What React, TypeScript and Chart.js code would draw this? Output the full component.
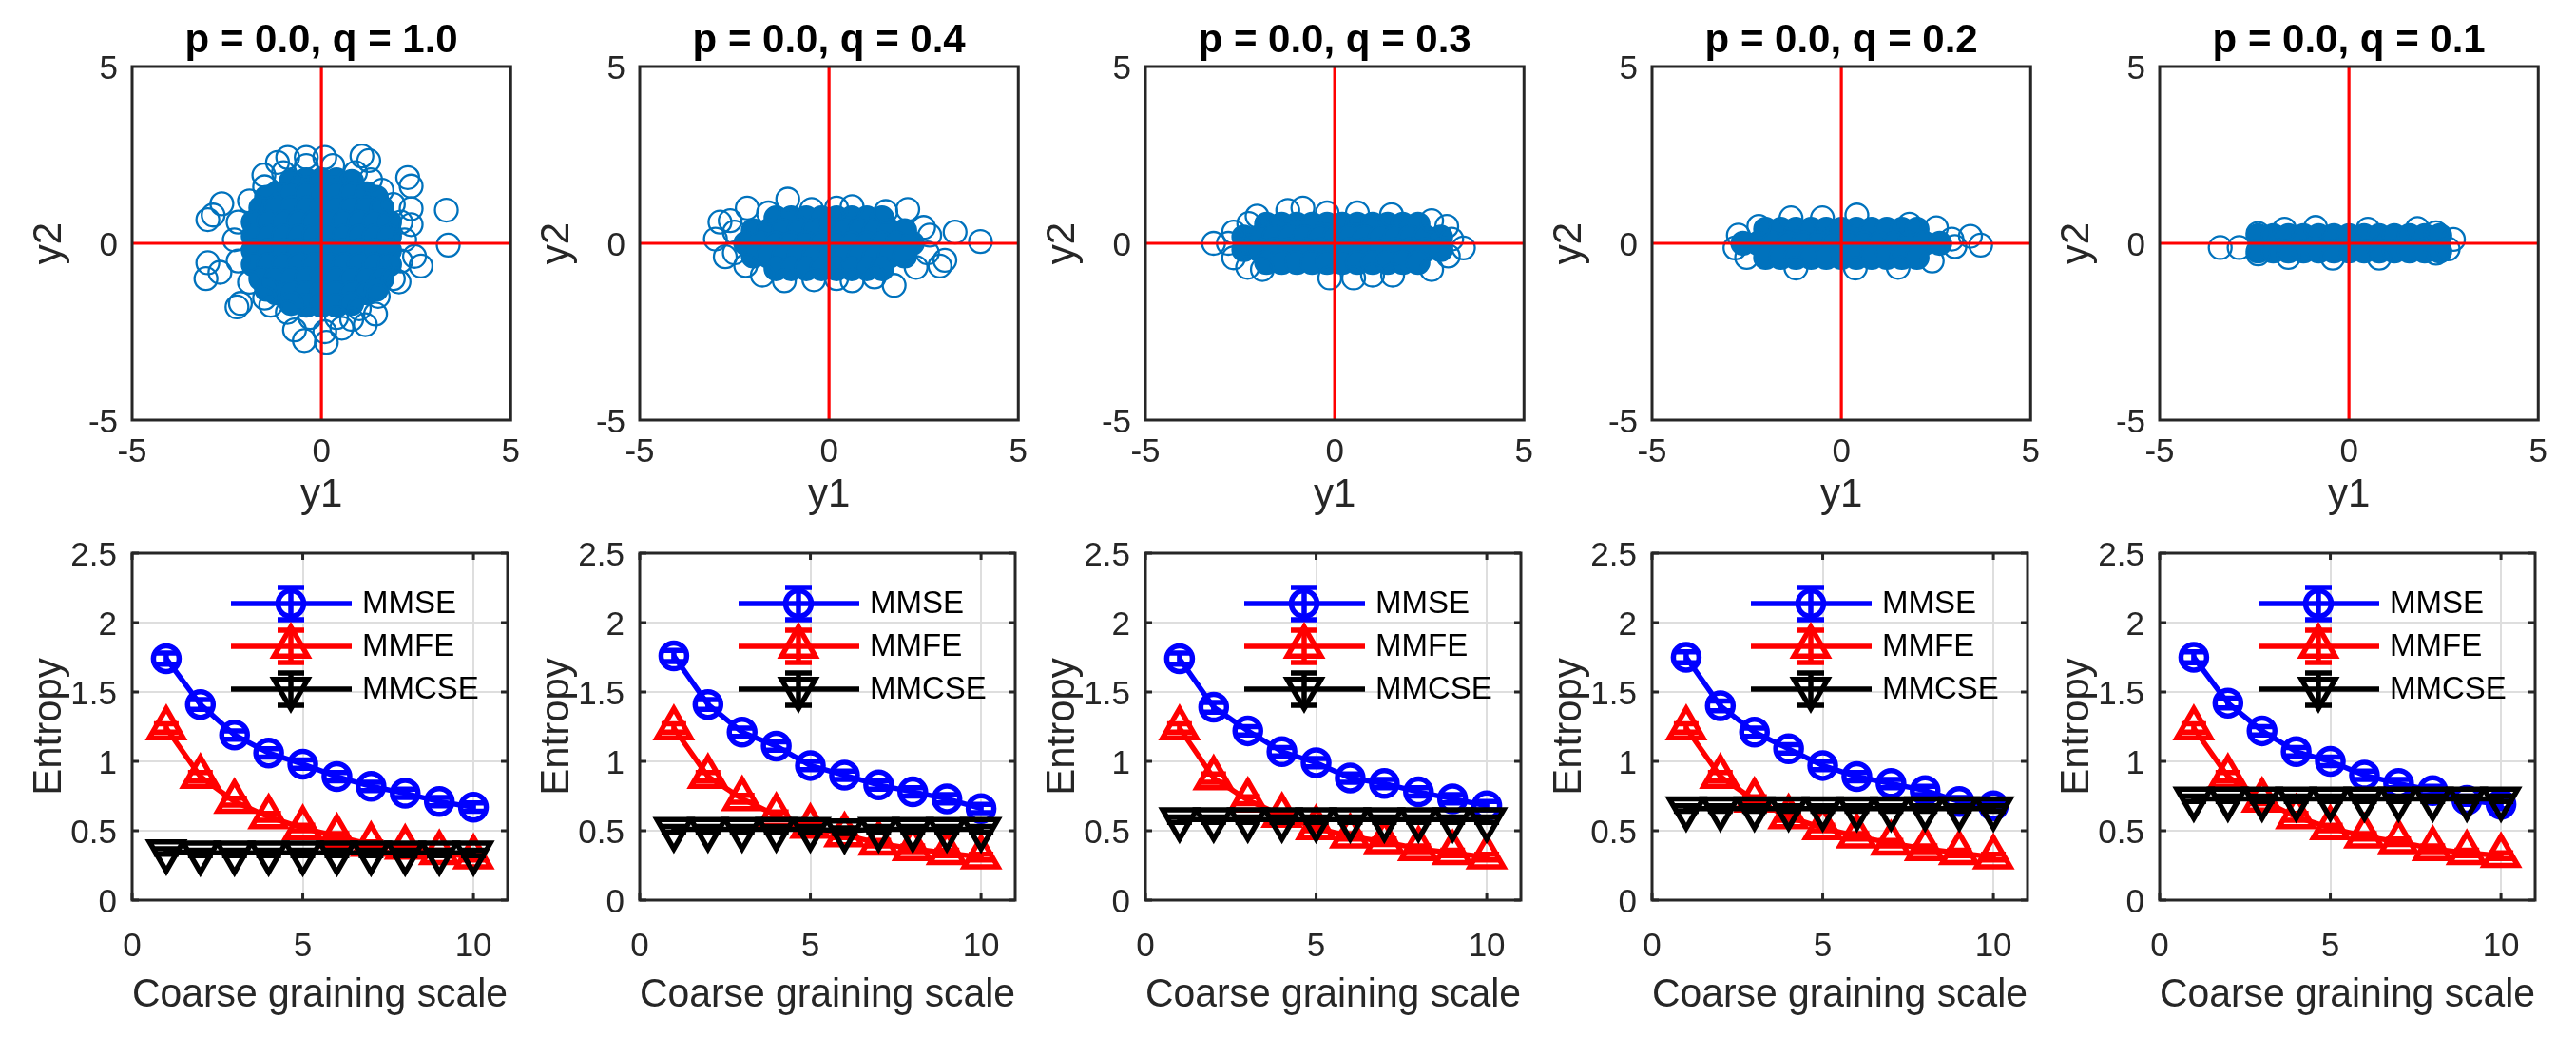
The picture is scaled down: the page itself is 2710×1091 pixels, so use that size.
import React, { useEffect, useRef } from "react";
import { Chart, registerables } from "chart.js";

Chart.register(...registerables);

const FONT = "'Liberation Sans', Arial, Helvetica, sans-serif";
const INK = "#262626";
const GRID = "#dedede";
const DOT = "#0072BD";
const BLUE = "#0000ff";
const RED = "#ff0000";
const BLACK = "#000000";

// panel parameters
const pLabels = ["0.0", "0.0", "0.0", "0.0", "0.0"];
const qLabels = ["1.0", "0.4", "0.3", "0.2", "0.1"];

// axis ticks
const scatterTicks = [-5, 0, 5];
const entropyTicks = [0, 0.5, 1, 1.5, 2, 2.5];
const grainTicks = [0, 5, 10];
const zeroSpan = [-5, 5];

// coarse graining scales
const grainScales = [1, 2, 3, 4, 5, 6, 7, 8, 9, 10];

// entropy curves per panel
const mmseQ10 = [1.74, 1.41, 1.19, 1.06, 0.98, 0.89, 0.82, 0.77, 0.71, 0.67];
const mmseQ04 = [1.76, 1.41, 1.21, 1.11, 0.97, 0.9, 0.83, 0.78, 0.73, 0.66];
const mmseQ03 = [1.74, 1.39, 1.22, 1.07, 0.99, 0.88, 0.84, 0.78, 0.73, 0.68];
const mmseQ02 = [1.75, 1.4, 1.21, 1.09, 0.97, 0.89, 0.84, 0.79, 0.71, 0.68];
const mmseQ01 = [1.75, 1.42, 1.22, 1.07, 1.0, 0.9, 0.84, 0.79, 0.72, 0.69];

const mmfeQ10 = [1.24, 0.89, 0.71, 0.6, 0.52, 0.46, 0.4, 0.38, 0.34, 0.31];
const mmfeQ04 = [1.24, 0.89, 0.73, 0.61, 0.53, 0.47, 0.41, 0.37, 0.34, 0.31];
const mmfeQ03 = [1.24, 0.88, 0.72, 0.61, 0.52, 0.46, 0.42, 0.37, 0.34, 0.31];
const mmfeQ02 = [1.24, 0.89, 0.72, 0.6, 0.52, 0.46, 0.41, 0.37, 0.34, 0.31];
const mmfeQ01 = [1.24, 0.89, 0.72, 0.6, 0.52, 0.46, 0.42, 0.37, 0.34, 0.32];

const mmcseQ10 = [0.35, 0.34, 0.34, 0.34, 0.34, 0.34, 0.34, 0.34, 0.34, 0.34];
const mmcseQ04 = [0.51, 0.51, 0.51, 0.51, 0.51, 0.5, 0.51, 0.51, 0.51, 0.51];
const mmcseQ03 = [0.58, 0.58, 0.58, 0.58, 0.58, 0.58, 0.58, 0.58, 0.58, 0.58];
const mmcseQ02 = [0.66, 0.66, 0.66, 0.66, 0.66, 0.66, 0.66, 0.66, 0.66, 0.66];
const mmcseQ01 = [0.73, 0.73, 0.73, 0.73, 0.73, 0.73, 0.73, 0.73, 0.73, 0.73];

// error bar half-lengths
const mmseErr = [0.04, 0.035, 0.03, 0.03, 0.03, 0.03, 0.03, 0.03, 0.03, 0.03];
const mmfeErr = [0.03, 0.03, 0.025, 0.025, 0.02, 0.02, 0.02, 0.02, 0.02, 0.02];
const mmcseErr = [0.02, 0.02, 0.02, 0.02, 0.02, 0.02, 0.02, 0.02, 0.02, 0.02];

// scatter clouds: dense core and the loose rim / outliers
const coreQ10 = [
  [-0.4, 1.8], [0, 1.8], [0.4, 1.8], [-0.8, 1.75], [0.8, 1.75],
  [-1.2, 1.4], [-0.8, 1.4], [-0.4, 1.4], [0, 1.4], [0.4, 1.4], [0.8, 1.4], [1.2, 1.4], [-1.45, 1.3], [1.45, 1.3],
  [-1.6, 1], [-1.2, 1], [-0.8, 1], [-0.4, 1], [0, 1], [0.4, 1], [0.8, 1], [1.2, 1], [1.6, 1],
  [-1.8, 0.6], [-1.4, 0.6], [-1, 0.6], [-0.6, 0.6], [-0.2, 0.6], [0.2, 0.6], [0.6, 0.6], [1, 0.6], [1.4, 0.6], [1.8, 0.6],
  [-1.8, 0.2], [-1.4, 0.2], [-1, 0.2], [-0.6, 0.2], [-0.2, 0.2], [0.2, 0.2], [0.6, 0.2], [1, 0.2], [1.4, 0.2], [1.8, 0.2],
  [-1.8, -0.2], [-1.4, -0.2], [-1, -0.2], [-0.6, -0.2], [-0.2, -0.2], [0.2, -0.2], [0.6, -0.2], [1, -0.2], [1.4, -0.2], [1.8, -0.2],
  [-1.8, -0.6], [-1.4, -0.6], [-1, -0.6], [-0.6, -0.6], [-0.2, -0.6], [0.2, -0.6], [0.6, -0.6], [1, -0.6], [1.4, -0.6], [1.8, -0.6],
  [-1.6, -1], [-1.2, -1], [-0.8, -1], [-0.4, -1], [0, -1], [0.4, -1], [0.8, -1], [1.2, -1], [1.6, -1],
  [-1.2, -1.4], [-0.8, -1.4], [-0.4, -1.4], [0, -1.4], [0.4, -1.4], [0.8, -1.4], [1.2, -1.4], [-1.45, -1.3], [1.45, -1.3],
  [-0.4, -1.75], [0, -1.75], [0.4, -1.75], [-0.8, -1.7], [0.8, -1.7],
];
const ringQ10 = [
  [3.3, 0.94], [3.35, -0.05], [2.28, 1.86], [2.37, 1.62], [1.07, 2.47], [1.25, 2.34], [0.09, 2.43], [-0.4, 2.43],
  [-0.89, 2.43], [-1.16, 2.29], [-1.52, 1.93], [-2.63, 1.12], [-3.0, 0.67], [-2.86, 0.8], [-3.0, -0.55], [-3.05, -1.0],
  [-2.68, -0.82], [-2.23, -1.8], [-2.14, -1.7], [-1.34, -1.75], [-0.71, -2.45], [-0.45, -2.75], [0.13, -2.8], [0.09, -2.5],
  [0.54, -2.4], [1.16, -2.3], [1.43, -2.0], [2.63, -0.64], [2.46, -0.37], [2.37, 0.53], [2.37, 0.98], [2.05, -1.09],
  [0.8, -2.15], [1.6, 1.5], [1.9, 1.1], [2.1, 0.6], [2.2, 0.1], [2.1, -0.5], [1.9, -1.0], [1.5, -1.5], [1.0, -1.85],
  [0.4, -2.1], [-0.3, -2.1], [-0.9, -1.95], [-1.5, -1.55], [-1.9, -1.1], [-2.2, -0.5], [-2.3, 0.1], [-2.2, 0.6],
  [-1.9, 1.2], [-1.5, 1.6], [-1.0, 2.0], [-0.4, 2.2], [0.3, 2.2], [0.9, 2.0], [1.3, 1.8],
];

const coreQ04 = [
  [-1.4, 0.72], [-1, 0.72], [-0.6, 0.72], [-0.2, 0.72], [0.2, 0.72], [0.6, 0.72], [1, 0.72], [1.4, 0.72],
  [-2, 0.36], [-1.6, 0.36], [-1.2, 0.36], [-0.8, 0.36], [-0.4, 0.36], [0, 0.36], [0.4, 0.36], [0.8, 0.36], [1.2, 0.36], [1.6, 0.36], [2, 0.36],
  [-2.2, 0], [-1.8, 0], [-1.4, 0], [-1, 0], [-0.6, 0], [-0.2, 0], [0.2, 0], [0.6, 0], [1, 0], [1.4, 0], [1.8, 0], [2.2, 0],
  [-2, -0.36], [-1.6, -0.36], [-1.2, -0.36], [-0.8, -0.36], [-0.4, -0.36], [0, -0.36], [0.4, -0.36], [0.8, -0.36], [1.2, -0.36], [1.6, -0.36], [2, -0.36],
  [-1.4, -0.72], [-1, -0.72], [-0.6, -0.72], [-0.2, -0.72], [0.2, -0.72], [0.6, -0.72], [1, -0.72], [1.4, -0.72],
];
const ringQ04 = [
  [3.33, 0.32], [4.0, 0.05], [2.93, -0.64], [3.06, -0.48], [1.72, -1.19], [-1.18, -1.06], [-1.09, 1.25], [-2.16, 1.0],
  [-2.88, 0.6], [-2.61, 0.64], [-3.0, 0.12], [-2.74, -0.38], [2.08, 0.96], [0.61, 1.04], [2.66, 0.23], [0.61, -1.06],
  [-1.76, -0.9], [-0.46, 0.96], [-2.5, 0.32], [-2.5, -0.27], [-2.2, -0.63], [-0.4, -1.03], [0.2, -1.0], [1.2, -0.95],
  [2.3, -0.68], [2.6, -0.27], [2.5, 0.45], [1.5, 0.9], [0.2, 1.0], [-1.6, 0.86],
];

const coreQ03 = [
  [-1.8, 0.54], [-1.4, 0.54], [-1, 0.54], [-0.6, 0.54], [-0.2, 0.54], [0.2, 0.54], [0.6, 0.54], [1, 0.54], [1.4, 0.54], [1.8, 0.54], [2.2, 0.54],
  [-2.4, 0.18], [-2, 0.18], [-1.6, 0.18], [-1.2, 0.18], [-0.8, 0.18], [-0.4, 0.18], [0, 0.18], [0.4, 0.18], [0.8, 0.18], [1.2, 0.18], [1.6, 0.18], [2, 0.18], [2.4, 0.18], [2.8, 0.18],
  [-2.4, -0.18], [-2, -0.18], [-1.6, -0.18], [-1.2, -0.18], [-0.8, -0.18], [-0.4, -0.18], [0, -0.18], [0.4, -0.18], [0.8, -0.18], [1.2, -0.18], [1.6, -0.18], [2, -0.18], [2.4, -0.18], [2.8, -0.18],
  [-1.8, -0.54], [-1.4, -0.54], [-1, -0.54], [-0.6, -0.54], [-0.2, -0.54], [0.2, -0.54], [0.6, -0.54], [1, -0.54], [1.4, -0.54], [1.8, -0.54], [2.2, -0.54],
];
const ringQ03 = [
  [-3.2, 0], [3.4, -0.13], [2.56, -0.74], [-0.13, -0.98], [0.5, -0.98], [-0.84, 1.0], [-1.24, 0.93], [-2.05, 0.77],
  [-2.27, 0.56], [-2.67, 0.32], [-2.81, 0], [-2.67, -0.41], [-1.91, -0.74], [2.56, 0.64], [2.96, 0.48], [3.09, 0.12],
  [1.53, -0.9], [-2.3, -0.68], [0.6, 0.86], [1.5, 0.81], [-0.2, 0.86], [1.0, -0.9], [3.0, -0.36],
];

const coreQ02 = [
  [-2, 0.4], [-1.6, 0.4], [-1.2, 0.4], [-0.8, 0.4], [-0.4, 0.4], [0, 0.4], [0.4, 0.4], [0.8, 0.4], [1.2, 0.4], [1.6, 0.4], [2, 0.4],
  [-2.6, 0], [-2.2, 0], [-1.8, 0], [-1.4, 0], [-1, 0], [-0.6, 0], [-0.2, 0], [0.2, 0], [0.6, 0], [1, 0], [1.4, 0], [1.8, 0], [2.2, 0], [2.6, 0],
  [-2, -0.4], [-1.6, -0.4], [-1.2, -0.4], [-0.8, -0.4], [-0.4, -0.4], [0, -0.4], [0.4, -0.4], [0.8, -0.4], [1.2, -0.4], [1.6, -0.4], [2, -0.4],
];
const ringQ02 = [
  [0.41, 0.8], [-1.33, 0.72], [2.51, 0.44], [2.92, 0.12], [3.41, 0.2], [3.68, -0.05], [3.0, -0.09], [-1.2, -0.7],
  [0.37, -0.7], [-2.81, -0.13], [-2.72, 0.23], [-2.18, 0.48], [-2.5, -0.4], [1.5, -0.68], [2.4, -0.5], [1.8, 0.54], [-0.5, 0.72],
];

const coreQ01 = [
  [-2.4, 0.22], [-2, 0.22], [-1.6, 0.22], [-1.2, 0.22], [-0.8, 0.22], [-0.4, 0.22], [0, 0.22], [0.4, 0.22], [0.8, 0.22], [1.2, 0.22], [1.6, 0.22], [2, 0.22], [2.4, 0.22],
  [-2.4, -0.22], [-2, -0.22], [-1.6, -0.22], [-1.2, -0.22], [-0.8, -0.22], [-0.4, -0.22], [0, -0.22], [0.4, -0.22], [0.8, -0.22], [1.2, -0.22], [1.6, -0.22], [2, -0.22], [2.4, -0.22],
];
const ringQ01 = [
  [-3.4, -0.12], [-2.9, -0.12], [2.76, 0.11], [2.62, -0.16], [1.81, 0.42], [-0.88, 0.45], [-0.43, -0.42], [2.3, 0.3],
  [2.3, -0.28], [-2.4, 0.28], [-2.4, -0.3], [0.5, 0.4], [0.8, -0.42], [-1.6, -0.4], [-1.7, 0.4],
];

const mmseSets = [mmseQ10, mmseQ04, mmseQ03, mmseQ02, mmseQ01];
const mmfeSets = [mmfeQ10, mmfeQ04, mmfeQ03, mmfeQ02, mmfeQ01];
const mmcseSets = [mmcseQ10, mmcseQ04, mmcseQ03, mmcseQ02, mmcseQ01];
const coreSets = [coreQ10, coreQ04, coreQ03, coreQ02, coreQ01];
const ringSets = [ringQ10, ringQ04, ringQ03, ringQ02, ringQ01];

// layout (pixels)
const PLOT_LEFT = [139, 673, 1205, 1738, 2272];
const AXIS_W = 139;
const CANVAS_W = 560;
const PLOT_W = 400;
const RIGHT_PAD = CANVAS_W - AXIS_W - PLOT_W;
const TOP_ROW = { top: 0, height: 570, areaTop: 70, areaBottom: 442 };
const BOTTOM_ROW = { top: 545, height: 546, areaTop: 30, areaBottom: 402 };

const tickFont = { size: 35, family: FONT };
const labelFont = { size: 42, family: FONT };

// inward tick marks, drawn underneath the data
const tickMarks = (xt: number[], yt: number[]) => ({
  id: "tickMarks",
  beforeDatasetsDraw(chart: any) {
    const { ctx, chartArea: a, scales } = chart;
    ctx.save();
    ctx.strokeStyle = INK;
    ctx.lineWidth = 3;
    ctx.beginPath();
    for (const v of xt) {
      const px = scales.x.getPixelForValue(v);
      ctx.moveTo(px, a.bottom);
      ctx.lineTo(px, a.bottom - 7);
      ctx.moveTo(px, a.top);
      ctx.lineTo(px, a.top + 7);
    }
    for (const v of yt) {
      const py = scales.y.getPixelForValue(v);
      ctx.moveTo(a.left, py);
      ctx.lineTo(a.left + 7, py);
      ctx.moveTo(a.right, py);
      ctx.lineTo(a.right - 7, py);
    }
    ctx.stroke();
    ctx.restore();
  },
});

// axes box around the plot area
const framePlugin = {
  id: "frame",
  afterDraw(chart: any) {
    const { ctx, chartArea: a } = chart;
    ctx.save();
    ctx.strokeStyle = INK;
    ctx.lineWidth = 3;
    ctx.strokeRect(a.left, a.top, a.right - a.left, a.bottom - a.top);
    ctx.restore();
  },
};

function markerPath(ctx: any, style: string, x: number, y: number, r: number, rotDeg: number) {
  ctx.beginPath();
  if (style === "circle") {
    ctx.arc(x, y, r, 0, Math.PI * 2);
  } else {
    let rad = (rotDeg * Math.PI) / 180;
    ctx.moveTo(x + Math.sin(rad) * r, y - Math.cos(rad) * r);
    rad += (2 * Math.PI) / 3;
    ctx.lineTo(x + Math.sin(rad) * r, y - Math.cos(rad) * r);
    rad += (2 * Math.PI) / 3;
    ctx.lineTo(x + Math.sin(rad) * r, y - Math.cos(rad) * r);
    ctx.closePath();
  }
  ctx.stroke();
}

const CAP_W = 26;
const SERIES_LW = 5.5;

function scatterConfig(i: number): any {
  const toPts = (arr: number[][]) => arr.map(([x, y]) => ({ x, y }));
  return {
    type: "scatter",
    data: {
      datasets: [
        {
          data: zeroSpan.map((v) => ({ x: v, y: 0 })),
          showLine: true,
          borderColor: RED,
          borderWidth: 3.2,
          pointRadius: 0,
          order: 0,
        },
        {
          data: zeroSpan.map((v) => ({ x: 0, y: v })),
          showLine: true,
          borderColor: RED,
          borderWidth: 3.2,
          pointRadius: 0,
          order: 0,
        },
        {
          data: toPts(ringSets[i]),
          pointRadius: 12,
          pointBorderWidth: 2.3,
          pointBorderColor: DOT,
          pointBackgroundColor: "rgba(0,0,0,0)",
          order: 1,
        },
        {
          data: toPts(coreSets[i]),
          pointRadius: 12,
          pointBorderWidth: 2.3,
          pointBorderColor: DOT,
          pointBackgroundColor: DOT,
          order: 2,
        },
      ],
    },
    options: {
      animation: false,
      responsive: false,
      devicePixelRatio: 1,
      events: [],
      layout: { padding: { left: 0, right: RIGHT_PAD, top: 0, bottom: 0 } },
      plugins: {
        legend: { display: false },
        tooltip: { enabled: false },
        title: {
          display: true,
          text: `p = ${pLabels[i]}, q = ${qLabels[i]}`,
          font: { size: 42, weight: "bold", family: FONT },
          color: "#000",
          padding: { top: 17.8, bottom: TOP_ROW.areaTop - 17.8 - 50.4 },
          fullSize: false,
        },
      },
      scales: {
        x: {
          type: "linear",
          min: -5,
          max: 5,
          afterBuildTicks: (s: any) => {
            s.ticks = scatterTicks.map((v) => ({ value: v }));
          },
          ticks: { font: tickFont, color: INK, padding: 13, maxRotation: 0, autoSkip: false, callback: (v: any) => String(v) },
          grid: { display: false, drawTicks: false },
          border: { display: false },
          title: { display: true, text: "y1", font: labelFont, color: INK, padding: { top: 0, bottom: 23.8 } },
          afterFit: (s: any) => {
            s.height = TOP_ROW.height - TOP_ROW.areaBottom;
          },
        },
        y: {
          type: "linear",
          min: -5,
          max: 5,
          afterBuildTicks: (s: any) => {
            s.ticks = scatterTicks.map((v) => ({ value: v }));
          },
          ticks: { font: tickFont, color: INK, padding: 15, labelOffset: 3, autoSkip: false, callback: (v: any) => String(v) },
          grid: { display: false, drawTicks: false },
          border: { display: false },
          title: { display: true, text: "y2", font: labelFont, color: INK, padding: { top: 26.8, bottom: 0 } },
          afterFit: (s: any) => {
            s.width = AXIS_W;
          },
        },
      },
    },
    plugins: [framePlugin],
  };
}

function entropyConfig(i: number): any {
  const series = [
    { name: "MMSE", values: mmseSets[i], errs: mmseErr, color: BLUE, style: "circle", radius: 13.5, rotation: 0, order: 3 },
    { name: "MMFE", values: mmfeSets[i], errs: mmfeErr, color: RED, style: "triangle", radius: 20.5, rotation: 0, order: 2 },
    { name: "MMCSE", values: mmcseSets[i], errs: mmcseErr, color: BLACK, style: "triangle", radius: 20.5, rotation: 180, order: 1 },
  ];

  const errorBars = {
    id: "errorBars",
    afterDatasetDraw(chart: any, args: any) {
      const s = series[args.index];
      if (!s) return;
      const { ctx } = chart;
      const xs = chart.scales.x;
      const ys = chart.scales.y;
      ctx.save();
      ctx.strokeStyle = s.color;
      ctx.lineWidth = SERIES_LW;
      ctx.beginPath();
      grainScales.forEach((g, k) => {
        const px = xs.getPixelForValue(g);
        const lo = ys.getPixelForValue(s.values[k] - s.errs[k]);
        const hi = ys.getPixelForValue(s.values[k] + s.errs[k]);
        ctx.moveTo(px, lo);
        ctx.lineTo(px, hi);
        ctx.moveTo(px - CAP_W / 2, lo);
        ctx.lineTo(px + CAP_W / 2, lo);
        ctx.moveTo(px - CAP_W / 2, hi);
        ctx.lineTo(px + CAP_W / 2, hi);
      });
      ctx.stroke();
      ctx.restore();
    },
  };

  const legendBox = {
    id: "legendBox",
    afterDraw(chart: any) {
      const { ctx, chartArea: a } = chart;
      ctx.save();
      series.forEach((s, k) => {
        const y = a.top + 53 + 45 * k;
        const mx = a.left + 167;
        ctx.strokeStyle = s.color;
        ctx.lineWidth = SERIES_LW;
        ctx.beginPath();
        ctx.moveTo(a.left + 104, y);
        ctx.lineTo(a.left + 231, y);
        ctx.moveTo(mx, y - 17);
        ctx.lineTo(mx, y + 17);
        ctx.moveTo(mx - 14, y - 17);
        ctx.lineTo(mx + 14, y - 17);
        ctx.moveTo(mx - 14, y + 17);
        ctx.lineTo(mx + 14, y + 17);
        ctx.stroke();
        markerPath(ctx, s.style, mx, y, s.radius, s.rotation);
        ctx.fillStyle = "#000";
        ctx.font = `33px ${FONT}`;
        ctx.textAlign = "left";
        ctx.textBaseline = "middle";
        ctx.fillText(s.name, a.left + 242, y + 1);
      });
      ctx.restore();
    },
  };

  return {
    type: "line",
    data: {
      datasets: series.map((s) => ({
        label: s.name,
        data: grainScales.map((g, k) => ({ x: g, y: s.values[k] })),
        borderColor: s.color,
        borderWidth: SERIES_LW,
        tension: 0,
        fill: false,
        pointStyle: s.style,
        pointRadius: s.radius,
        pointRotation: s.rotation,
        pointBorderColor: s.color,
        pointBackgroundColor: "rgba(0,0,0,0)",
        pointBorderWidth: SERIES_LW,
        order: s.order,
      })),
    },
    options: {
      animation: false,
      responsive: false,
      devicePixelRatio: 1,
      events: [],
      layout: { padding: { left: 0, right: RIGHT_PAD, top: BOTTOM_ROW.areaTop, bottom: 0 } },
      plugins: {
        legend: { display: false },
        tooltip: { enabled: false },
        title: { display: false },
      },
      scales: {
        x: {
          type: "linear",
          min: 0,
          max: 11,
          afterBuildTicks: (s: any) => {
            s.ticks = grainTicks.map((v) => ({ value: v }));
          },
          ticks: { font: tickFont, color: INK, padding: 28, maxRotation: 0, autoSkip: false, callback: (v: any) => String(v) },
          grid: { color: GRID, lineWidth: 2, drawTicks: false },
          border: { display: false },
          title: { display: true, text: "Coarse graining scale", font: labelFont, color: INK, padding: { top: 0, bottom: 18 } },
          afterFit: (s: any) => {
            s.height = BOTTOM_ROW.height - BOTTOM_ROW.areaBottom;
          },
        },
        y: {
          type: "linear",
          min: 0,
          max: 2.5,
          afterBuildTicks: (s: any) => {
            s.ticks = entropyTicks.map((v) => ({ value: v }));
          },
          ticks: { font: tickFont, color: INK, padding: 16, labelOffset: 3, autoSkip: false, callback: (v: any) => String(v) },
          grid: { color: GRID, lineWidth: 2, drawTicks: false },
          border: { display: false },
          title: { display: true, text: "Entropy", font: labelFont, color: INK, padding: { top: 26.8, bottom: 0 } },
          afterFit: (s: any) => {
            s.width = AXIS_W;
          },
        },
      },
    },
    plugins: [tickMarks(grainTicks, entropyTicks), errorBars, legendBox, framePlugin],
  };
}

function ChartCanvas({ make, left, top, width, height }: any) {
  const ref = useRef<HTMLCanvasElement | null>(null);
  useEffect(() => {
    if (!ref.current) return;
    const chart = new Chart(ref.current, make());
    return () => chart.destroy();
  }, []);
  return (
    <canvas
      ref={ref}
      width={width}
      height={height}
      style={{ position: "absolute", left, top, width, height }}
    />
  );
}

export default function App() {
  useEffect(() => {
    document.body.style.margin = "0";
    document.body.style.overflow = "hidden";
  }, []);
  return (
    <div
      style={{
        position: "absolute",
        left: 0,
        top: 0,
        width: 2710,
        height: 1091,
        background: "#ffffff",
        overflow: "hidden",
      }}
    >
      {PLOT_LEFT.map((x0, i) => (
        <React.Fragment key={i}>
          <ChartCanvas
            make={() => scatterConfig(i)}
            left={x0 - AXIS_W}
            top={TOP_ROW.top}
            width={CANVAS_W}
            height={TOP_ROW.height}
          />
          <ChartCanvas
            make={() => entropyConfig(i)}
            left={x0 - AXIS_W}
            top={BOTTOM_ROW.top}
            width={CANVAS_W}
            height={BOTTOM_ROW.height}
          />
        </React.Fragment>
      ))}
    </div>
  );
}
